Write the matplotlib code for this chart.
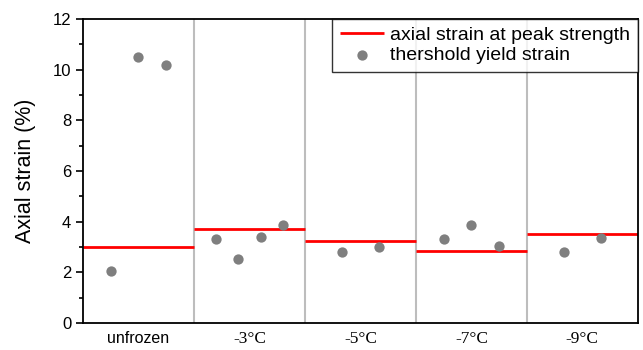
import numpy as np
import matplotlib.pyplot as plt

groups = ["unfrozen", "-3°C", "-5°C", "-7°C", "-9°C"]
peak_strain = [3.01, 3.70, 3.24, 2.84, 3.51]
yield_strain = [
    [2.06, 10.49, 10.18],
    [3.30, 2.54, 3.40, 3.86],
    [2.79, 3.01],
    [3.33, 3.86, 3.04],
    [2.79, 3.34],
]

plt.rcParams['font.family'] = ['Liberation Sans', 'DejaVu Sans']

fig = plt.figure(figsize=(6.43, 3.5), dpi=100)
ax = fig.add_axes([0.129, 0.077, 0.863, 0.869])

for i, (p, ys) in enumerate(zip(peak_strain, yield_strain)):
    n = len(ys)
    xs = i + np.arange(1, n + 1) / (n + 1)
    ax.hlines(p, i, i + 1, color="red", lw=2, zorder=2,
              label="axial strain at peak strength" if i == 0 else None)
    ax.scatter(xs, ys, s=55, color="#7f7f7f", zorder=3, linewidths=0,
               label="thershold yield strain" if i == 0 else None)

for b in range(1, len(groups)):
    ax.axvline(b, color="#bdbdbd", lw=1.5, zorder=1)

ax.set_xlim(0, len(groups))
ax.set_ylim(0, 12)
ax.set_yticks(range(0, 13, 2))
ax.set_yticks(range(1, 12, 2), minor=True)
ax.tick_params(axis="y", which="major", length=5, width=1.2, labelsize=12)
ax.tick_params(axis="y", which="minor", length=3, width=1.2)
ax.set_xticks(np.arange(len(groups)) + 0.5)
ax.set_xticklabels(groups)
ax.tick_params(axis="x", length=0, labelsize=11.5, pad=6)
for lab in ax.get_xticklabels()[1:]:
    lab.set_family(['Liberation Serif', 'DejaVu Serif'])
    lab.set_fontsize(12.5)

for s in ax.spines.values():
    s.set_linewidth(1.3)

ax.set_ylabel("Axial strain (%)", fontsize=15.5, labelpad=12)

leg = ax.legend(loc="upper right", fontsize=14, frameon=True, fancybox=False,
                edgecolor="black", borderaxespad=0, handlelength=2.3,
                handletextpad=0.3, labelspacing=0.1, borderpad=0.4)
leg.get_frame().set_linewidth(1.0)

plt.savefig("out.png", dpi=100)
